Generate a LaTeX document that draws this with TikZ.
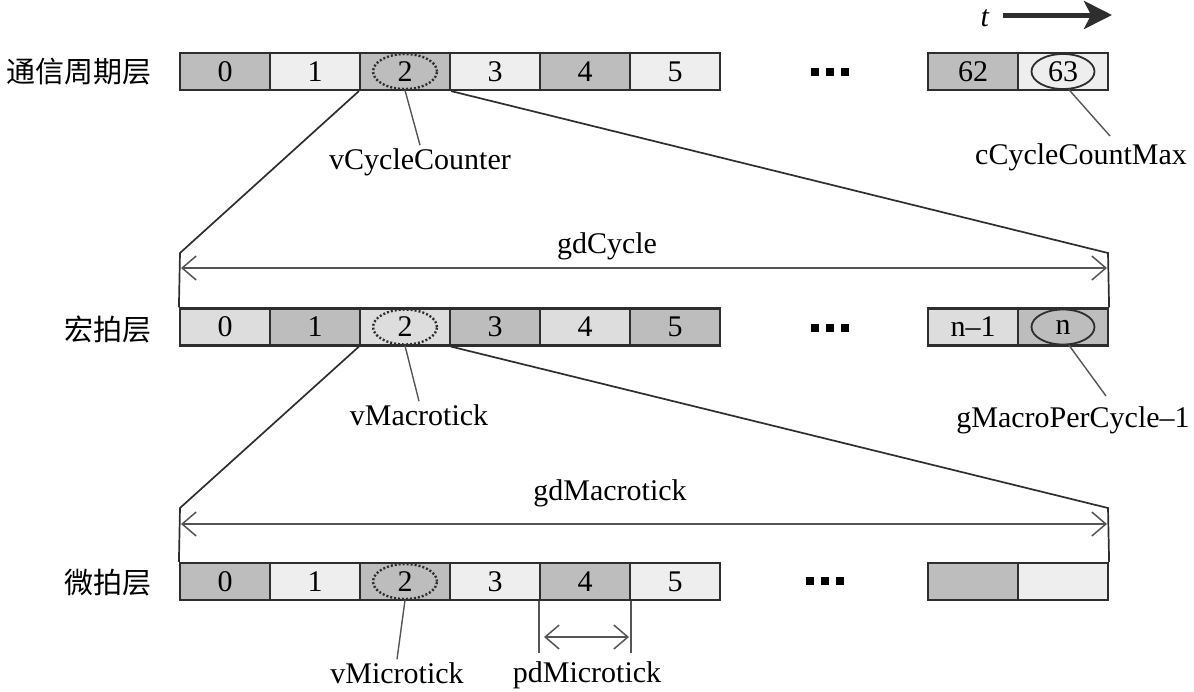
\documentclass[tikz,border=0pt]{standalone}
\usepackage{fontspec}
\setmainfont{Liberation Serif}
\newfontfamily\cjk{Noto Sans CJK SC}
\usetikzlibrary{arrows.meta,shapes.geometric}
\definecolor{cdark}{HTML}{BDBDBD}
\definecolor{clight}{HTML}{EEEEEE}
\definecolor{cmid}{HTML}{DDDDDD}
\definecolor{cline}{HTML}{2E2E2E}
\definecolor{cgray}{HTML}{555555}
\begin{document}
\begin{tikzpicture}[x=1pt,y=-1pt,font=\fontsize{30}{34}\selectfont,
 cell/.style={draw=cline,line width=2.2pt,minimum width=90pt,minimum height=37pt,inner sep=0pt,anchor=center},
 dk/.style={cell,fill=cdark}, lt/.style={cell,fill=clight}, md/.style={cell,fill=cmid},
 dotell/.style={ellipse,draw=cline,dash pattern=on 2pt off 2pt,line width=2.4pt,minimum width=64pt,minimum height=35pt,inner sep=0pt},
 solell/.style={ellipse,draw=cline,line width=1.8pt,minimum width=63pt,minimum height=35pt,inner sep=0pt},
 lbl/.style={inner sep=3pt},
 layer/.style={font=\cjk\fontsize{29}{34}\selectfont},
 expand/.style={draw=cline,line width=1.7pt},
 pointer/.style={draw=cgray,line width=1.4pt},
 dim/.style={draw=cgray,line width=1.5pt,{Straight Barb[length=14pt,width=24pt]}-{Straight Barb[length=14pt,width=24pt]}},
 sq/.style={fill=black,minimum size=8pt,inner sep=0pt}]
\useasboundingbox (0,0) rectangle (1194,691);

% time arrow
\node (t) at (985,18) {\textit{t}};
\coordinate (tA) at (1003,15);
\coordinate (tB) at (1112,15);
\draw[line width=5pt,draw=cline,-{Stealth[length=28pt,width=28pt,inset=7pt]}] (tA) -- (tB);

% layer labels
\node[layer] (L1name) at (79,72) {通信周期层};
\node[layer] (L2name) at (108,329) {宏拍层};
\node[layer] (L3name) at (108,583) {微拍层};

% row 1
\foreach \i/\s in {0/dk,1/lt,2/dk,3/lt,4/dk,5/lt}
  \node[\s] (a\i) at (225+90*\i,71.5) {\ifnum\i=2\else\i\fi};
\node[dk] (a62) at (973,71.5) {62};
\node[lt] (a63) at (1063,71.5) {};
\node[dotell] (ea) at (a2) {2};
\node[solell] (ea63) at (a63) {63};
\node[sq] (da1) at (815,72) {}; \node[sq] (da2) at (830,72) {}; \node[sq] (da3) at (845,72) {};

% row 2
\foreach \i/\s in {0/md,1/dk,2/md,3/dk,4/md,5/dk}
  \node[\s] (b\i) at (225+90*\i,327) {\ifnum\i=2\else\i\fi};
\node[md] (bm) at (973,327) {n–1};
\node[dk] (bn) at (1063,327) {};
\node[dotell] (eb) at (b2) {2};
\node[solell] (ebn) at (bn) {n};
\node[sq] (db1) at (815,328) {}; \node[sq] (db2) at (830,328) {}; \node[sq] (db3) at (845,328) {};

% row 3
\foreach \i/\s in {0/dk,1/lt,2/dk,3/lt,4/dk,5/lt}
  \node[\s] (c\i) at (225+90*\i,581.5) {\ifnum\i=2\else\i\fi};
\node[dk] (cm) at (973,581.5) {};
\node[lt] (cn) at (1063,581.5) {};
\node[dotell] (ec) at (c2) {2};
\node[sq] (dc1) at (810,581) {}; \node[sq] (dc2) at (825,581) {}; \node[sq] (dc3) at (840,581) {};

% expansion lines
\coordinate (L1) at (180,253); \coordinate (R1) at (1108,253);
\draw[expand] (a2.south west) -- (L1) -- (b0.north west);
\draw[expand] (a2.south east) -- (R1) -- (bn.north east);
\coordinate (L2) at (180,508); \coordinate (R2) at (1108,508);
\draw[expand] (b2.south west) -- (L2) -- (c0.north west);
\draw[expand] (b2.south east) -- (R2) -- (cn.north east);

% dimension arrows
\coordinate (gA) at (181,268); \coordinate (gB) at (1107,268);
\draw[dim] (gA) -- (gB);
\node (gdC) at (607,246) {gdCycle};
\coordinate (hA) at (181,524); \coordinate (hB) at (1107,524);
\draw[dim] (hA) -- (hB);
\node (gdM) at (610,493) {gdMacrotick};

% labels and pointers
\node[lbl] (vCC) at (420,162) {vCycleCounter};
\draw[pointer] (ea.south) -- (vCC.north);
\node[lbl] (cCM) at (1081,157) {cCycleCountMax};
\coordinate (pc) at (1110,136);
\draw[pointer] (ea63.-72) -- (pc);

\node[lbl] (vMa) at (419,415) {vMacrotick};
\draw[pointer] (eb.south) -- (vMa.north);
\node[lbl] (gMP) at (1073,420) {gMacroPerCycle–1};
\coordinate (pn) at (1106,396);
\draw[pointer] (ebn.-72) -- (pn);

\node[lbl] (vMi) at (397,673) {vMicrotick};
\draw[pointer] (ec.south) -- (vMi.north);
\node[lbl] (pdM) at (587,675) {pdMicrotick};
\coordinate (p1) at (c4.south west |- 0,653);
\coordinate (p2) at (c4.south east |- 0,653);
\draw[pointer,line width=1.3pt] (c4.south west) -- (p1);
\draw[pointer,line width=1.3pt] (c4.south east) -- (p2);
\coordinate (q1) at (544,637); \coordinate (q2) at (629,637);
\draw[dim] (q1) -- (q2);
\end{tikzpicture}
\end{document}
